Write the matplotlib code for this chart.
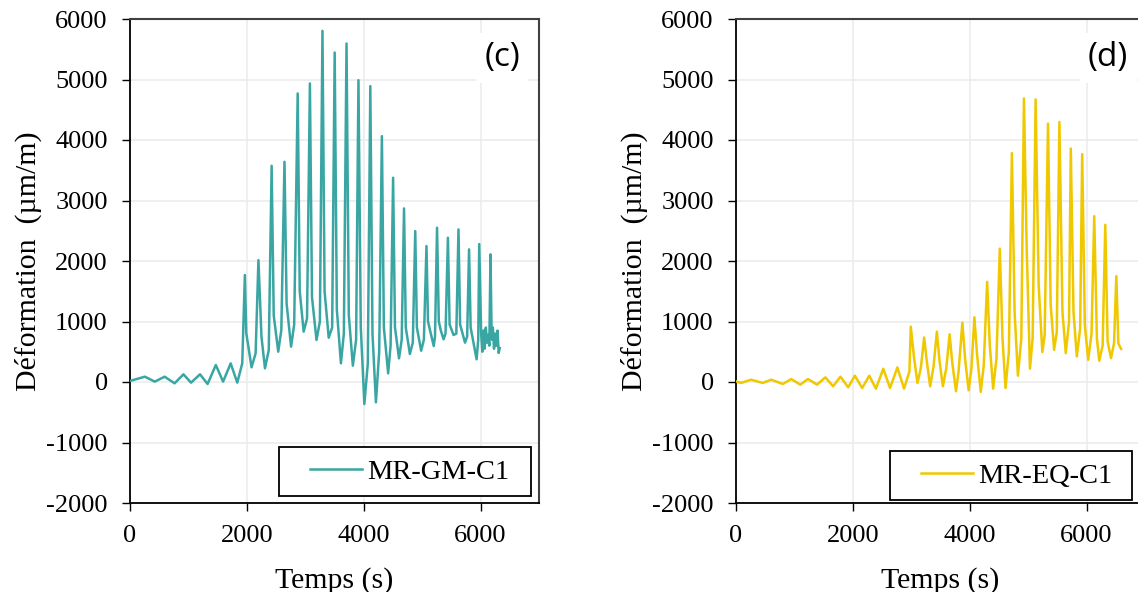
import matplotlib
matplotlib.use('Agg')
import matplotlib.pyplot as plt
from matplotlib.legend_handler import HandlerLine2D

plt.rcParams['axes.unicode_minus'] = False

# donnees (temps en s, deformation en µm/m)
temps_gm = [0, 254, 424, 593, 763, 915, 1045, 1198, 1328, 1469, 1593, 1723, 1836, 1921,
            1966, 1990, 2080, 2150,
            2198, 2250, 2310, 2375,
            2424, 2460, 2537, 2590,
            2644, 2680, 2757, 2810,
            2870, 2905, 2972, 3030,
            3079, 3115, 3192, 3250,
            3294, 3330, 3401, 3460,
            3503, 3540, 3610, 3660,
            3706, 3745, 3814, 3870,
            3910, 3950, 4011, 4070,
            4113, 4150, 4209, 4265,
            4311, 4345, 4418, 4460,
            4503, 4535, 4604, 4650,
            4690, 4720, 4790, 4840,
            4882, 4910, 4983, 5030,
            5074, 5100, 5198, 5220,
            5255, 5285, 5320, 5367, 5400,
            5441, 5470, 5537, 5585,
            5622, 5650, 5734, 5770,
            5803, 5830, 5932, 5960,
            5977, 6010, 6030, 6050, 6070, 6090, 6110, 6130, 6150,
            6170, 6190, 6210, 6230, 6250, 6270, 6290, 6310, 6328]
deform_gm = [17, 88, 6, 88, -22, 127, -11, 127, -33, 281, 6, 308, -11, 308,
             1768, 810, 243, 474,
             2015, 749, 226, 529,
             3574, 1100, 501, 860,
             3640, 1300, 584, 950,
             4769, 1500, 832, 1050,
             4934, 1400, 694, 1000,
             5804, 1500, 732, 900,
             5446, 1200, 309, 800,
             5595, 1100, 270, 700,
             4989, 900, -364, 309,
             4890, 800, -336, 500,
             4064, 900, 143, 600,
             3376, 900, 391, 700,
             2869, 900, 463, 650,
             2495, 900, 517, 700,
             2247, 1000, 595, 750,
             2550, 1000, 850, 705, 800,
             2385, 950, 777, 800,
             2522, 950, 650, 750,
             2192, 900, 375, 700,
             2280, 800, 500, 850, 550, 900, 650, 780, 600,
             2109, 700, 900, 550, 800, 600, 850, 480, 560]

temps_eq = [0, 86, 258, 458, 602, 802, 945, 1100, 1232, 1387, 1530, 1662, 1788, 1920,
            2034, 2160, 2281, 2395, 2521, 2636, 2762, 2876, 2968,
            2991, 3048, 3106, 3163,
            3220, 3266, 3323, 3381,
            3438, 3484, 3541, 3599,
            3656, 3700, 3765, 3810,
            3874, 3925, 3982, 4030,
            4080, 4126, 4189, 4240,
            4298, 4344, 4401, 4458,
            4515, 4561, 4613, 4670,
            4722, 4768, 4825, 4883,
            4928, 4974, 5031, 5077,
            5128, 5180, 5243, 5283,
            5340, 5386, 5444, 5490,
            5535, 5587, 5644, 5700,
            5730, 5776, 5833, 5890,
            5925, 5970, 6028, 6085,
            6131, 6177, 6217, 6275,
            6320, 6360, 6418, 6470,
            6509, 6544, 6590]
deform_eq = [11, -16, 38, -16, 38, -33, 49, -44, 49, -44, 77, -71, 88, -88,
             104, -99, 104, -110, 219, -99, 241, -110, 175,
             915, 395, -16, 230,
             735, 340, -71, 258,
             833, 340, -71, 230,
             789, 330, -153, 180,
             981, 340, -137, 230,
             1069, 450, -164, 280,
             1656, 610, -110, 390,
             2204, 720, -99, 500,
             3783, 1160, 104, 720,
             4687, 2260, 219, 720,
             4671, 1600, 493, 780,
             4271, 1270, 532, 820,
             4298, 1160, 477, 1000,
             3859, 1160, 422, 880,
             3766, 940, 367, 800,
             2741, 720, 351, 600,
             2598, 670, 395, 640,
             1749, 640, 548]

# (temps, deformation, legende, couleur, lettre, boite de legende en fraction d'axe)
series = [(temps_gm, deform_gm, 'MR-GM-C1', '#3aa6a3', '(c)', (0.3643, 0.0145, 0.6161, 0.1)),
          (temps_eq, deform_eq, 'MR-EQ-C1', '#f0c800', '(d)', (0.3765, 0.006, 0.5917, 0.1))]

fig = plt.figure(figsize=(11.38, 5.92), dpi=100)
positions = [[130/1138, 1-503/592, 409/1138, 484/592],
             [736/1138, 1-503/592, 409/1138, 484/592]]

serif = 'Liberation Serif'

for pos, (t, d, nom, couleur, lettre, boite) in zip(positions, series):
    ax = fig.add_axes(pos)
    ligne, = ax.plot(t, d, color=couleur, linewidth=1.8, label=nom, zorder=3)
    ax.set_xlim(0, 7000)
    ax.set_ylim(-2000, 6000)
    ax.set_xticks([0, 2000, 4000, 6000])
    ax.set_yticks(range(-2000, 6001, 1000))
    ax.grid(True, color='#ececec', linewidth=1.2, zorder=0)
    ax.set_axisbelow(True)
    for cote in ['left', 'bottom']:
        ax.spines[cote].set_color('black')
        ax.spines[cote].set_linewidth(1.3)
    for cote in ['top', 'right']:
        ax.spines[cote].set_color('#404040')
        ax.spines[cote].set_linewidth(1.5)
    ax.tick_params(direction='out', length=6, width=1, pad=10, labelsize=19)
    for lab in ax.get_xticklabels() + ax.get_yticklabels():
        lab.set_family(serif)
    ax.set_xlabel('Temps (s)', fontsize=21.5, family=serif, labelpad=14)
    ax.set_ylabel('Déformation  (µm/m)', fontsize=21.5, family=serif, labelpad=3)
    ax.text(0.91, 0.92, lettre, transform=ax.transAxes, fontsize=24,
            family='Open Sans', ha='center', va='center',
            bbox=dict(facecolor='white', edgecolor='none', pad=6), zorder=4)
    leg = ax.legend(handles=[ligne], loc='lower right', bbox_to_anchor=boite,
                    mode='expand', borderaxespad=0, fancybox=False, framealpha=1,
                    edgecolor='black', handlelength=2.5, handletextpad=0.2,
                    borderpad=0.4,
                    handler_map={ligne: HandlerLine2D(xpad=0.7)},
                    prop={'family': serif, 'size': 20.5})
    leg.get_frame().set_linewidth(1.3)

plt.savefig('out.png', dpi=100)
